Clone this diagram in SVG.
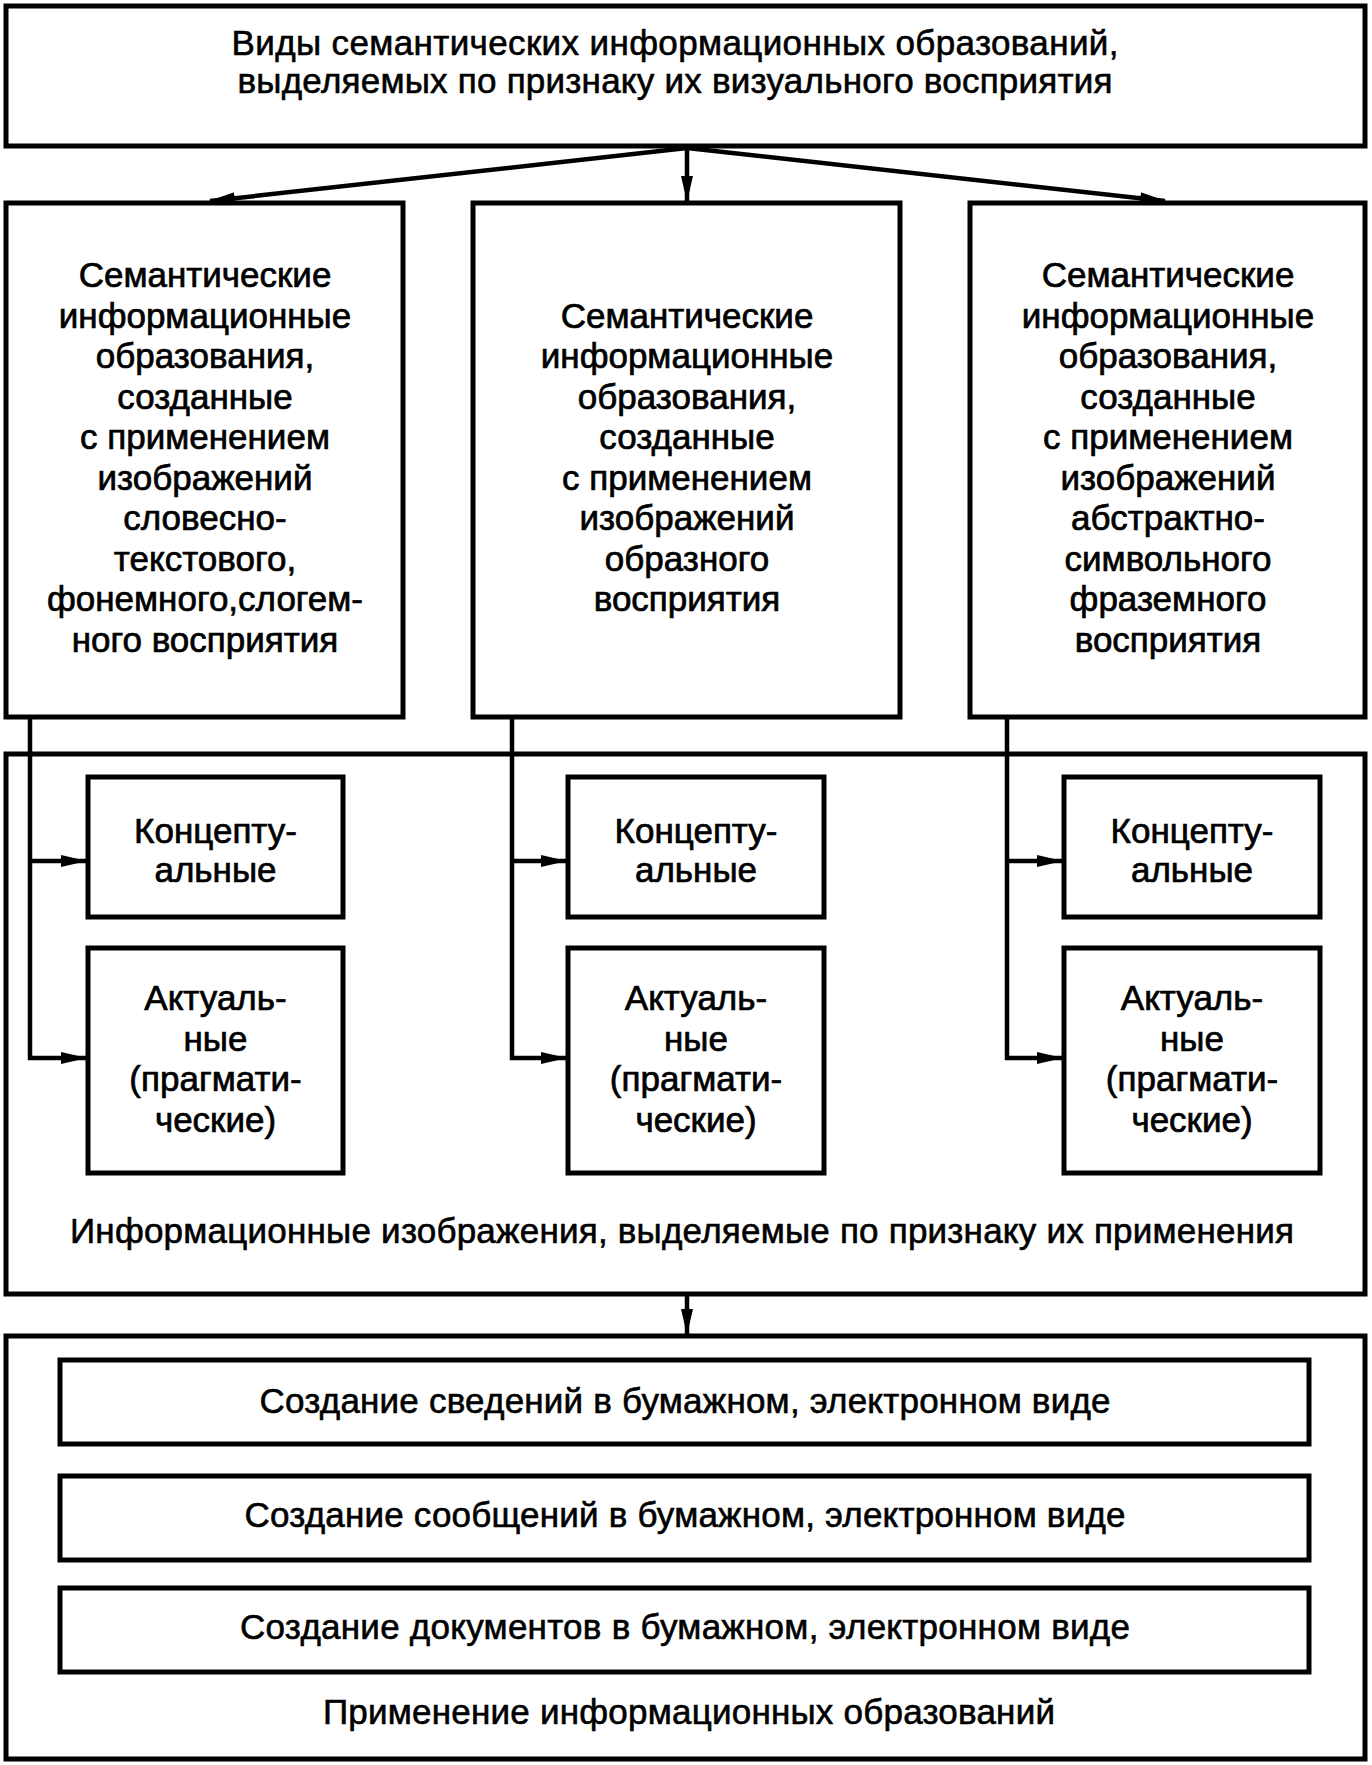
<svg xmlns="http://www.w3.org/2000/svg" width="1372" height="1765" viewBox="0 0 1372 1765">
<style>
.box{fill:#fff;stroke:#000;stroke-width:5}
.frame{fill:none;stroke:#000;stroke-width:5}
.t{font-family:"Liberation Sans",Arial,sans-serif;font-size:35px;fill:#000;stroke:#000;stroke-width:0.6;text-anchor:middle}
.b{font-family:"Liberation Sans",Arial,sans-serif;font-size:35px;fill:#000;stroke:#000;stroke-width:0.7;text-anchor:middle}
.c{fill:none;stroke:#000;stroke-width:4.5}
</style>
<defs>
<marker id="ah" markerUnits="userSpaceOnUse" markerWidth="26" markerHeight="12" refX="25" refY="6" orient="auto">
<path d="M0,0 L26,6 L0,12 z" fill="#000"/>
</marker>
</defs>
<g id="top">
<rect class="box" x="6" y="6" width="1359" height="140"/>
<text class="t" x="675" y="55" textLength="887">Виды семантических информационных образований,</text>
<text class="t" x="675" y="93" textLength="875">выделяемых по признаку их визуального восприятия</text>
</g>
<g id="sem1">
<rect class="box" x="6" y="203" width="397" height="514"/>
<text class="b" x="205"><tspan x="205" y="287">Семантические</tspan><tspan x="205" y="327.5">информационные</tspan><tspan x="205" y="368">образования,</tspan><tspan x="205" y="408.5">созданные</tspan><tspan x="205" y="449">с применением</tspan><tspan x="205" y="489.5">изображений</tspan><tspan x="205" y="530">словесно-</tspan><tspan x="205" y="570.5">текстового,</tspan><tspan x="205" y="611">фонемного,слогем-</tspan><tspan x="205" y="651.5">ного восприятия</tspan></text>
</g>
<g id="sem2">
<rect class="box" x="473" y="203" width="427" height="514"/>
<text class="b" x="687"><tspan x="687" y="327.5">Семантические</tspan><tspan x="687" y="368">информационные</tspan><tspan x="687" y="408.5">образования,</tspan><tspan x="687" y="449">созданные</tspan><tspan x="687" y="489.5">с применением</tspan><tspan x="687" y="530">изображений</tspan><tspan x="687" y="570.5">образного</tspan><tspan x="687" y="611">восприятия</tspan></text>
</g>
<g id="sem3">
<rect class="box" x="970" y="203" width="395" height="514"/>
<text class="b" x="1168"><tspan x="1168" y="287">Семантические</tspan><tspan x="1168" y="327.5">информационные</tspan><tspan x="1168" y="368">образования,</tspan><tspan x="1168" y="408.5">созданные</tspan><tspan x="1168" y="449">с применением</tspan><tspan x="1168" y="489.5">изображений</tspan><tspan x="1168" y="530">абстрактно-</tspan><tspan x="1168" y="570.5">символьного</tspan><tspan x="1168" y="611">фраземного</tspan><tspan x="1168" y="651.5">восприятия</tspan></text>
</g>
<g id="usage">
<rect class="frame" x="6" y="754" width="1359" height="540"/>
<text class="t" x="682" y="1243" textLength="1224">Информационные изображения, выделяемые по признаку их применения</text>
</g>
<g id="k1">
<rect class="box" x="88" y="777" width="255" height="140"/>
<text class="b"><tspan x="215.5" y="843">Концепту-</tspan><tspan x="215.5" y="882">альные</tspan></text>
</g>
<g id="a1">
<rect class="box" x="88" y="948" width="255" height="225"/>
<text class="b"><tspan x="215.5" y="1010">Актуаль-</tspan><tspan x="215.5" y="1051">ные</tspan><tspan x="215.5" y="1091">(прагмати-</tspan><tspan x="215.5" y="1132">ческие)</tspan></text>
</g>
<g id="k2">
<rect class="box" x="568" y="777" width="256" height="140"/>
<text class="b"><tspan x="696" y="843">Концепту-</tspan><tspan x="696" y="882">альные</tspan></text>
</g>
<g id="a2">
<rect class="box" x="568" y="948" width="256" height="225"/>
<text class="b"><tspan x="696" y="1010">Актуаль-</tspan><tspan x="696" y="1051">ные</tspan><tspan x="696" y="1091">(прагмати-</tspan><tspan x="696" y="1132">ческие)</tspan></text>
</g>
<g id="k3">
<rect class="box" x="1064" y="777" width="256" height="140"/>
<text class="b"><tspan x="1192" y="843">Концепту-</tspan><tspan x="1192" y="882">альные</tspan></text>
</g>
<g id="a3">
<rect class="box" x="1064" y="948" width="256" height="225"/>
<text class="b"><tspan x="1192" y="1010">Актуаль-</tspan><tspan x="1192" y="1051">ные</tspan><tspan x="1192" y="1091">(прагмати-</tspan><tspan x="1192" y="1132">ческие)</tspan></text>
</g>
<g id="apply">
<rect class="frame" x="6" y="1336" width="1359" height="423"/>
<text class="t" x="689" y="1724" textLength="732">Применение информационных образований</text>
</g>
<g id="s1">
<rect class="box" x="60" y="1360" width="1249" height="84"/>
<text class="t" x="685" y="1413" textLength="851">Создание сведений в бумажном, электронном виде</text>
</g>
<g id="s2">
<rect class="box" x="60" y="1476" width="1249" height="84"/>
<text class="t" x="685" y="1527" textLength="881">Создание сообщений в бумажном, электронном виде</text>
</g>
<g id="s3">
<rect class="box" x="60" y="1588" width="1249" height="84"/>
<text class="t" x="685" y="1639" textLength="890">Создание документов в бумажном, электронном виде</text>
</g>
<g id="connectors">
<line class="c" x1="687" y1="148" x2="210" y2="201" marker-end="url(#ah)"/>
<line class="c" x1="687" y1="148" x2="687" y2="201" marker-end="url(#ah)"/>
<line class="c" x1="687" y1="148" x2="1165" y2="201" marker-end="url(#ah)"/>
<polyline class="c" points="30,719 30,1058 86,1058" marker-end="url(#ah)"/>
<line class="c" x1="30" y1="861" x2="86" y2="861" marker-end="url(#ah)"/>
<polyline class="c" points="512,719 512,1058 566,1058" marker-end="url(#ah)"/>
<line class="c" x1="512" y1="861" x2="566" y2="861" marker-end="url(#ah)"/>
<polyline class="c" points="1007,719 1007,1058 1062,1058" marker-end="url(#ah)"/>
<line class="c" x1="1007" y1="861" x2="1062" y2="861" marker-end="url(#ah)"/>
<line class="c" x1="687" y1="1296" x2="687" y2="1334" marker-end="url(#ah)"/>
</g>
</svg>
